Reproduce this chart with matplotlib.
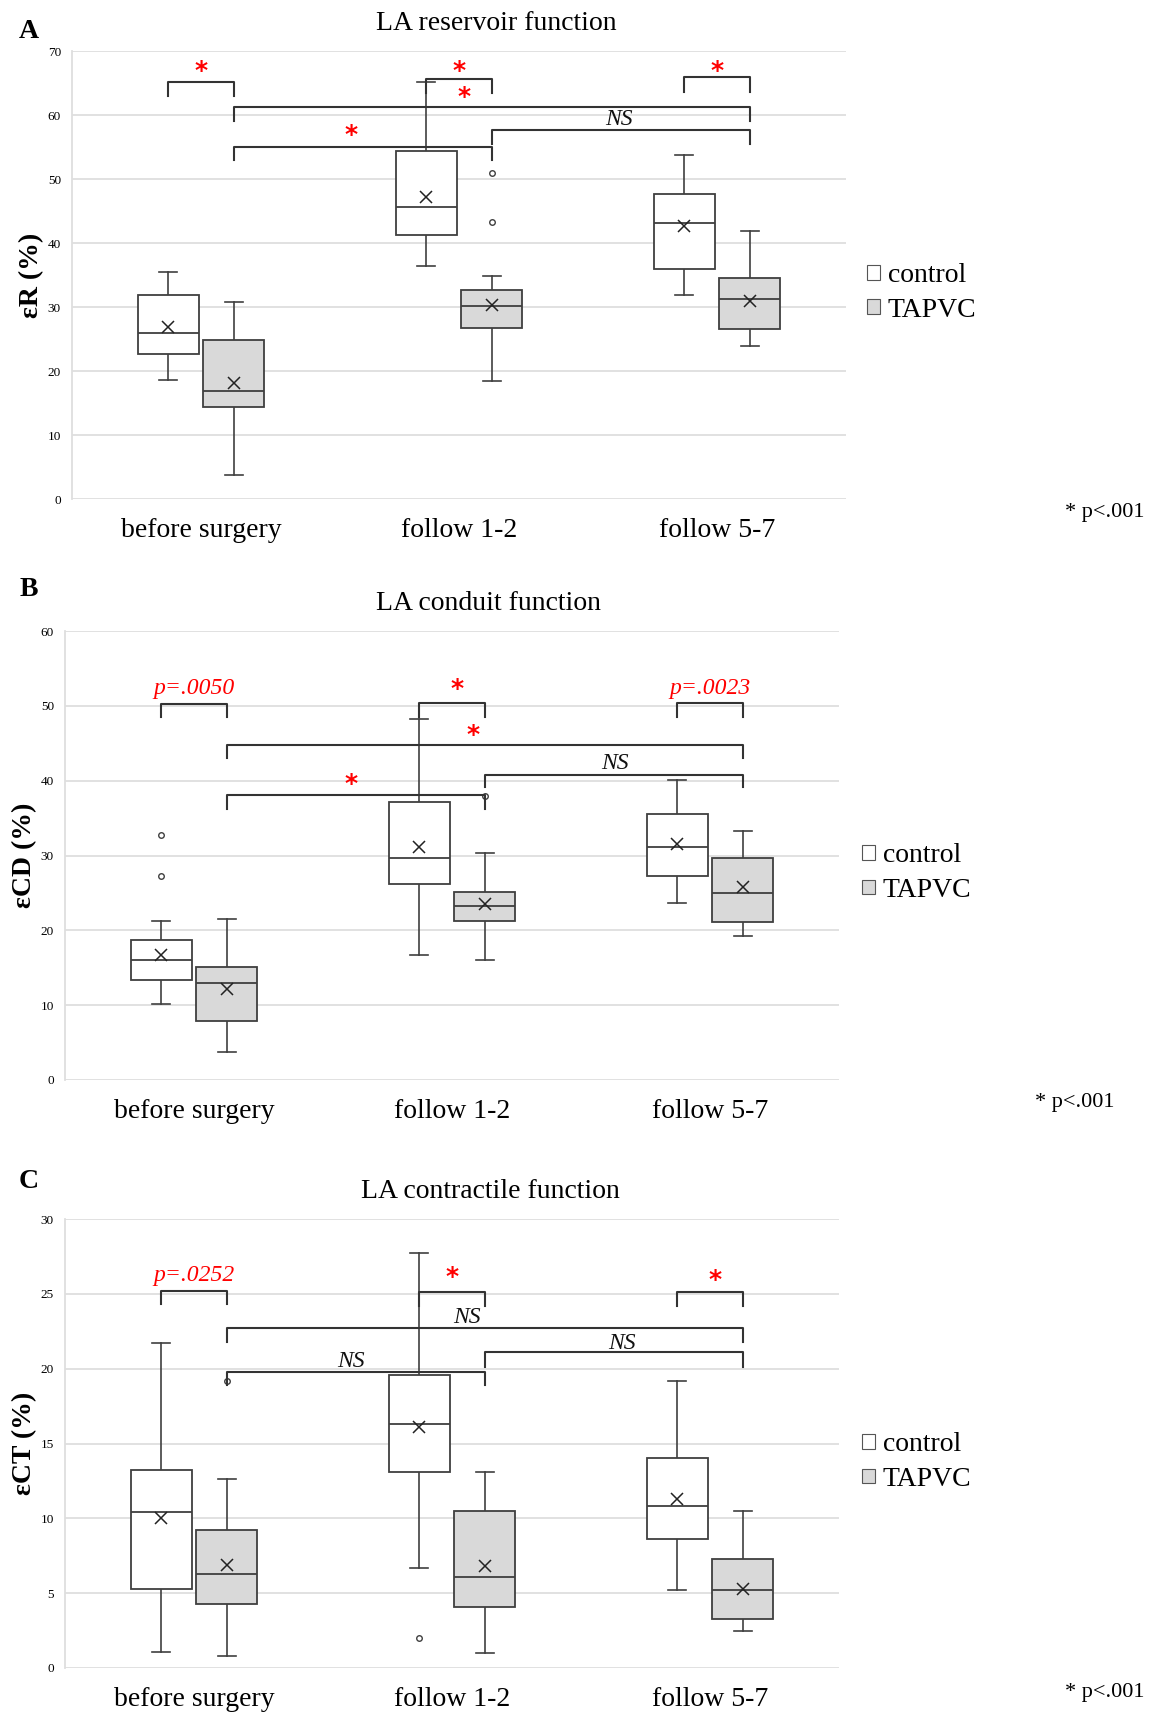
import matplotlib
matplotlib.use('Agg')
import matplotlib.pyplot as plt
from matplotlib.patches import Patch

plt.rcParams['font.family'] = ['Liberation Serif', 'DejaVu Serif']

W, H = 1151, 1712

categories = ['before surgery', 'follow 1-2', 'follow 5-7']
groups = ['control', 'TAPVC']

# (whisker low, Q1, median, Q3, whisker high) per category
er_control = [(18.6, 22.6, 26.0, 31.8, 35.4), (36.4, 41.3, 45.7, 54.4, 65.1), (31.8, 35.9, 43.2, 47.6, 53.7)]
er_tapvc = [(3.7, 14.4, 16.8, 24.9, 30.8), (18.5, 26.7, 30.1, 32.7, 34.9), (23.9, 26.6, 31.3, 34.5, 41.8)]
er_control_mean = [26.8, 47.2, 42.7]
er_tapvc_mean = [18.1, 30.3, 31.0]
er_control_out = [[], [], []]
er_tapvc_out = [[], [50.9, 43.3], []]

ecd_control = [(10.2, 13.4, 16.0, 18.7, 21.2), (16.7, 26.2, 29.7, 37.1, 48.2), (23.6, 27.2, 31.2, 35.6, 40.1)]
ecd_tapvc = [(3.8, 7.9, 13.0, 15.1, 21.5), (16.0, 21.2, 23.3, 25.1, 30.3), (19.2, 21.1, 25.0, 29.6, 33.3)]
ecd_control_mean = [16.7, 31.2, 31.5]
ecd_tapvc_mean = [12.2, 23.5, 25.8]
ecd_control_out = [[32.7, 27.2], [], []]
ecd_tapvc_out = [[], [37.9], []]

ect_control = [(1.1, 5.3, 10.4, 13.2, 21.7), (6.7, 13.1, 16.3, 19.6, 27.7), (5.2, 8.6, 10.8, 14.0, 19.2)]
ect_tapvc = [(0.8, 4.3, 6.3, 9.2, 12.6), (1.0, 4.1, 6.1, 10.5, 13.1), (2.5, 3.3, 5.2, 7.3, 10.5)]
ect_control_mean = [10.0, 16.1, 11.3]
ect_tapvc_mean = [6.9, 6.8, 5.3]
ect_control_out = [[], [2.0], []]
ect_tapvc_out = [[19.2], [], []]

# brackets: (left box, right box, line y, leg end y, label, label x, label y)
# boxes numbered 0..5 = control/TAPVC for each category
er_brackets = [(0, 1, 65.2, 63.0, '*', 0.0, 66.8), (2, 3, 65.6, 63.5, '*', 1.0, 66.8),
               (4, 5, 66.0, 63.6, '*', 2.0, 66.8), (1, 5, 61.3, 59.1, '*', 1.02, 62.8),
               (1, 3, 55.0, 52.9, '*', 0.58, 56.8), (3, 5, 57.6, 55.4, 'NS', 1.62, 59.3)]
ecd_brackets = [(0, 1, 50.3, 48.5, 'p=.0050', 0.0, 52.3), (2, 3, 50.4, 48.5, '*', 1.02, 52.2),
                (4, 5, 50.4, 48.5, 'p=.0023', 2.0, 52.3), (1, 5, 44.8, 43.0, '*', 1.08, 46.1),
                (1, 3, 38.1, 36.2, '*', 0.61, 39.6), (3, 5, 40.8, 39.1, 'NS', 1.63, 42.3)]
ect_brackets = [(0, 1, 25.2, 24.3, 'p=.0252', 0.0, 26.2), (2, 3, 25.1, 24.2, '*', 1.0, 26.1),
                (4, 5, 25.1, 24.2, '*', 2.02, 25.9), (1, 5, 22.7, 21.8, 'NS', 1.06, 23.4),
                (1, 3, 19.8, 18.9, 'NS', 0.61, 20.5), (3, 5, 21.1, 20.1, 'NS', 1.66, 21.7)]

OFF = 0.127
EDGE = '#3f3f3f'


def px(x, y):
    return x / W, 1 - y / H


def make_stats(box, mean, out):
    lo, q1, med, q3, hi = box
    return dict(whislo=lo, q1=q1, med=med, q3=q3, whishi=hi, mean=mean, fliers=out)


def panel(rect, letter, title, title_xy, ylabel, ymax, ystep,
          control, tapvc, cmean, tmean, cout, tout, brackets, leg_xy, pnote_xy):
    ax = fig.add_axes(rect)
    stats, positions, colors = [], [], []
    for i in range(3):
        stats.append(make_stats(control[i], cmean[i], cout[i]))
        positions.append(i - OFF)
        colors.append('white')
        stats.append(make_stats(tapvc[i], tmean[i], tout[i]))
        positions.append(i + OFF)
        colors.append('#d9d9d9')
    bp = ax.bxp(stats, positions=positions, widths=0.236, capwidths=0.07,
                patch_artist=True, showmeans=True,
                boxprops=dict(edgecolor=EDGE, linewidth=1.3),
                medianprops=dict(color=EDGE, linewidth=1.3),
                whiskerprops=dict(color=EDGE, linewidth=1.2),
                capprops=dict(color=EDGE, linewidth=1.2),
                meanprops=dict(marker='x', markeredgecolor='#222222', markersize=8, markeredgewidth=1.1),
                flierprops=dict(marker='o', markerfacecolor='white', markeredgecolor=EDGE,
                                markersize=4, markeredgewidth=1.0))
    for patch, c in zip(bp['boxes'], colors):
        patch.set_facecolor(c)
        patch.set_zorder(3)
    for line in bp['medians'] + bp['means']:
        line.set_zorder(5)

    ax.set_xlim(-0.5, 2.5)
    ax.set_ylim(0, ymax)
    ax.set_yticks(range(0, ymax + 1, ystep))
    ax.set_xticks(range(3))
    ax.set_xticklabels(categories, fontsize=20)
    ax.tick_params(axis='x', length=0, pad=14)
    ax.tick_params(axis='y', length=0, pad=8, labelsize=9.5)
    ax.grid(axis='y', color='#dedede', linewidth=1.3, zorder=0)
    ax.set_axisbelow(True)
    for s in ['top', 'right', 'bottom']:
        ax.spines[s].set_visible(False)
    ax.spines['left'].set_color('#dedede')
    ax.spines['left'].set_linewidth(1.3)

    for a, b, yl, yleg, lab, lx, ly in brackets:
        xa, xb = positions[a], positions[b]
        ax.plot([xa, xa, xb, xb], [yleg, yl, yl, yleg], color='#333333', linewidth=1.5,
                zorder=4, solid_joinstyle='round')
        if lab == '*':
            ax.text(lx, ly, '*', color='red', fontsize=18, fontweight='bold',
                    ha='center', va='center', family='DejaVu Sans')
        elif lab == 'NS':
            ax.text(lx, ly, lab, color='#111111', fontsize=17, style='italic',
                    ha='center', va='center')
        else:
            ax.text(lx, ly, lab, color='red', fontsize=17, style='italic',
                    ha='center', va='center')

    fig.text(*px(*title_xy), title, fontsize=20, ha='center', va='center')
    fig.text(*px(29, letter[1]), letter[0], fontsize=20, fontweight='bold', ha='center', va='center')
    ymid = (1 - rect[1] - rect[3] / 2) * H
    fig.text(*px(rect[0] * W - 40, ymid), ylabel, fontsize=20, fontweight='bold', rotation=90,
             ha='center', va='center')

    handles = [Patch(facecolor='white', edgecolor='#555555', linewidth=0.8),
               Patch(facecolor='#d9d9d9', edgecolor='#555555', linewidth=0.8)]
    fig.legend(handles, groups, loc='center left', bbox_to_anchor=px(*leg_xy), frameon=False,
               fontsize=20, handlelength=0.45, handleheight=0.45, handletextpad=0.3,
               labelspacing=0.35, borderaxespad=0, borderpad=0)
    fig.text(*px(*pnote_xy), '* p<.001', fontsize=16, ha='left', va='center')
    return ax


fig = plt.figure(figsize=(W / 100, H / 100), dpi=100)

panel([72 / W, 1 - 499 / H, 774 / W, 448 / H], ('A', 31), 'LA reservoir function', (496, 24),
      'εR (%)', 70, 10, er_control, er_tapvc, er_control_mean, er_tapvc_mean,
      er_control_out, er_tapvc_out, er_brackets, (867, 293), (1065, 513))
panel([65 / W, 1 - 1080 / H, 774 / W, 449 / H], ('B', 590), 'LA conduit function', (488, 604),
      'εCD (%)', 60, 10, ecd_control, ecd_tapvc, ecd_control_mean, ecd_tapvc_mean,
      ecd_control_out, ecd_tapvc_out, ecd_brackets, (862, 873), (1035, 1103))
panel([65 / W, 1 - 1668 / H, 774 / W, 449 / H], ('C', 1182), 'LA contractile function', (490, 1192),
      'εCT (%)', 30, 5, ect_control, ect_tapvc, ect_control_mean, ect_tapvc_mean,
      ect_control_out, ect_tapvc_out, ect_brackets, (862, 1462), (1065, 1693))

fig.savefig('out.png', dpi=100, facecolor='white')
